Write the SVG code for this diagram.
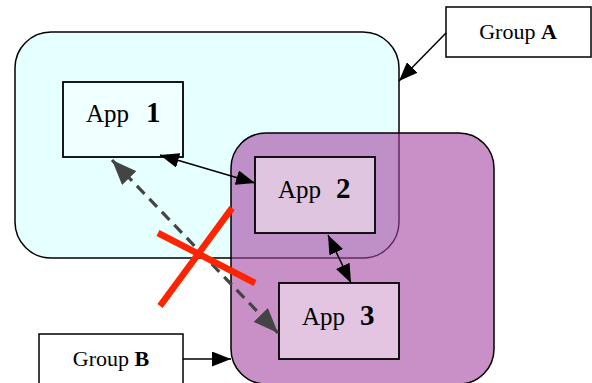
<svg xmlns="http://www.w3.org/2000/svg" width="592" height="383" viewBox="0 0 592 383">
  <style>
    .grp { stroke: #000; stroke-width: 1.5; }
    .box { stroke: #000; stroke-width: 1.8; }
    .lbl { fill: #fff; stroke: #000; stroke-width: 1.5; }
    text { font-family: "Liberation Serif", "Times New Roman", serif; fill: #000; }
    .app { font-size: 25px; }
    .num { font-size: 29px; font-weight: bold; }
    .gname { font-size: 22px; }
    .link { stroke: #000; stroke-width: 1.5; fill: none; }
    .dash { stroke: #444; stroke-width: 3.2; fill: none; stroke-dasharray: 11 7; }
    .cross { stroke: #ff2400; stroke-width: 6.5; stroke-linecap: butt; }
  </style>
  <defs>
    <marker id="head" viewBox="0 0 10 10" refX="10" refY="5" markerWidth="19" markerHeight="15" markerUnits="userSpaceOnUse" preserveAspectRatio="none" orient="auto-start-reverse">
      <path d="M0,0 L10,5 L0,10 z" fill="#000"/>
    </marker>
    <marker id="headGray" viewBox="0 0 10 10" refX="10" refY="5" markerWidth="25" markerHeight="20" markerUnits="userSpaceOnUse" preserveAspectRatio="none" orient="auto-start-reverse">
      <path d="M0,0 L10,5 L0,10 z" fill="#444"/>
    </marker>
  </defs>

  <!-- group containers -->
  <g id="groupA">
    <rect class="grp" x="15" y="32" width="384" height="226" rx="36" ry="36" fill="#e6ffff"/>
  </g>
  <g id="groupB">
    <rect class="grp" x="231" y="133" width="263" height="251" rx="35" ry="35" fill="#a544a2" fill-opacity="0.6"/>
  </g>

  <!-- applications -->
  <g id="app1">
    <rect class="box" x="63" y="82" width="120" height="75" fill="#f0ffff"/>
    <text x="86" y="122"><tspan class="app">App</tspan><tspan class="num" x="146">1</tspan></text>
  </g>
  <g id="app2">
    <rect class="box" x="255" y="157" width="120" height="76" fill="#dfc5e0"/>
    <text x="278" y="198"><tspan class="app">App</tspan><tspan class="num" x="336">2</tspan></text>
  </g>
  <g id="app3">
    <rect class="box" x="279" y="283" width="120" height="76" fill="#e3c5e2"/>
    <text x="302" y="325"><tspan class="app">App</tspan><tspan class="num" x="360">3</tspan></text>
  </g>

  <!-- group labels -->
  <g id="labelA">
    <rect class="lbl" x="446" y="7" width="145" height="50"/>
    <text class="gname" x="518" y="39" text-anchor="middle">Group <tspan font-weight="bold">A</tspan></text>
  </g>
  <g id="labelB">
    <rect class="lbl" x="39" y="334" width="144" height="60"/>
    <text class="gname" x="111" y="366" text-anchor="middle">Group <tspan font-weight="bold">B</tspan></text>
  </g>

  <!-- connectors -->
  <g id="connectors">
    <line class="link" x1="160" y1="155" x2="255" y2="183" marker-start="url(#head)" marker-end="url(#head)"/>
    <line class="link" x1="328" y1="235" x2="351" y2="283" marker-start="url(#head)" marker-end="url(#head)"/>
    <line class="dash" x1="112" y1="160" x2="278" y2="333" marker-start="url(#headGray)" marker-end="url(#headGray)"/>
    <line class="link" x1="446" y1="33" x2="399" y2="81" marker-end="url(#head)"/>
    <line class="link" x1="183" y1="359" x2="231" y2="359" marker-end="url(#head)"/>
  </g>

  <!-- blocked path mark -->
  <g id="cross">
    <line class="cross" x1="232" y1="208" x2="160" y2="306"/>
    <line class="cross" x1="158" y1="233" x2="255" y2="283"/>
  </g>
</svg>
